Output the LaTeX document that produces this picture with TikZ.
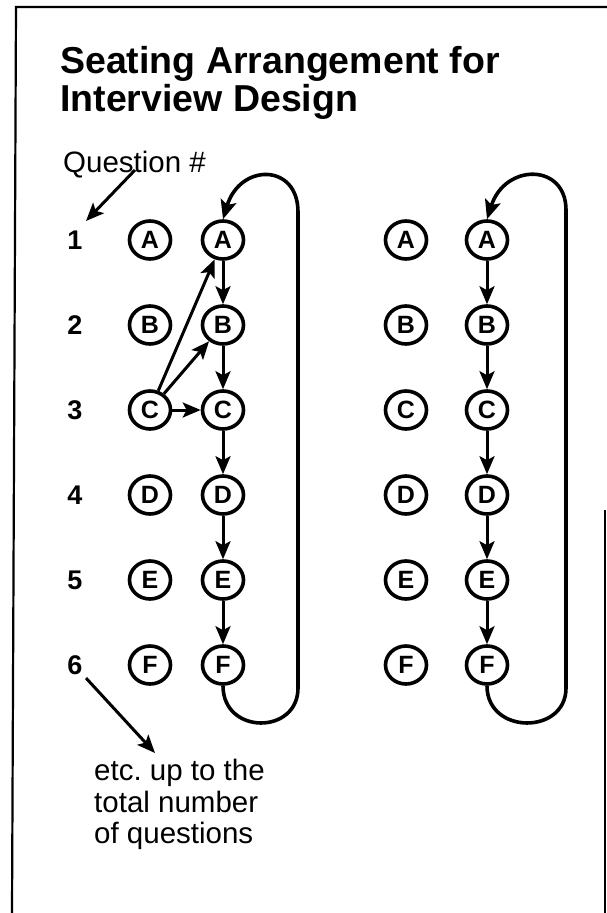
\documentclass[tikz,border=0pt]{standalone}
\usepackage{fontspec}
\setmainfont{Liberation Sans}
\usetikzlibrary{arrows.meta,shapes.geometric}
\begin{document}
\begin{tikzpicture}[x=1pt,y=-1pt,
  seat/.style={ellipse,draw,line width=3.6pt,minimum width=41pt,minimum height=38pt,inner sep=0pt,
    font=\fontsize{25}{25}\selectfont\bfseries},
  num/.style={font=\fontsize{27}{27}\selectfont\bfseries},
  arr/.style={line width=3pt,-{Stealth[length=18pt,width=15pt,inset=4pt]}},
  looparr/.style={line width=3.6pt,-{Stealth[length=19pt,width=16pt,inset=4pt]}},
  frame/.style={line width=2.2pt},
  ttl/.style={anchor=base west,inner sep=0pt,font=\fontsize{37.5}{37.5}\selectfont\bfseries},
  body/.style={anchor=base west,inner sep=0pt,font=\fontsize{29.5}{29.5}\selectfont}]
\useasboundingbox (0,0) rectangle (607,913);
% frame
\draw[frame] (12,913) -- (16,7) -- (607,7);
\draw[line width=1.6pt] (605,510) -- (605,913);
% title
\node[ttl] (t1) at (60,73) {Seating Arrangement for};
\node[ttl] (t2) at (60,111) {Interview Design};
\node[body] (q) at (63,172) {Question \#};
% row numbers
\foreach \i/\y in {1/240,2/325,3/410,4/495,5/580,6/665}
  \node[num] (n\i) at (75,\y) {\i};
% seats
\foreach \L/\y in {A/240,B/325,C/410,D/495,E/580,F/665}{
  \node[seat] (\L1) at (150,\y) {\L};
  \node[seat] (\L2) at (223,\y) {\L};
  \node[seat] (\L3) at (406,\y) {\L};
  \node[seat] (\L4) at (487,\y) {\L};
}
% vertical arrows
\foreach \a/\b in {A/B,B/C,C/D,D/E,E/F}{
  \draw[arr] (\a2) -- (\b2);
  \draw[arr] (\a4) -- (\b4);
}
% diagonal arrows from C1
\draw[arr] (C1) -- (A2);
\draw[arr] (C1) -- (B2);
\draw[arr] (C1) -- (C2);
% loops
\draw[looparr] (F2.south) .. controls (223,735) and (298,735) .. (298,688)
  -- (298,212) .. controls (298,163) and (240,163) .. (A2.north);
\draw[looparr] (F4.south) .. controls (487,735) and (566,735) .. (566,688)
  -- (566,210) .. controls (566,163) and (505,163) .. (A4.north);
% annotation arrows
\coordinate (qs) at (135,170);
\coordinate (q1) at (86,221);
\draw[arr] (qs) -- (q1);
\coordinate (e1) at (155,753);
\draw[arr] (n6.south east) -- (e1);
% bottom text
\node[body] (etc1) at (94,780) {etc.\ up to the};
\node[body] (etc2) at (94,812) {total number};
\node[body] (etc3) at (94,843) {of questions};
\end{tikzpicture}
\end{document}
